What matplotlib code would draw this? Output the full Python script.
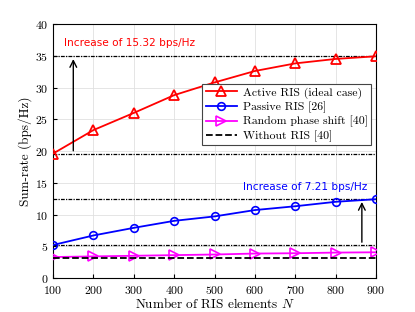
import numpy as np
import matplotlib
matplotlib.use('Agg')
from matplotlib import pyplot as plt

# data
n_elem = [100, 200, 300, 400, 500, 600, 700, 800, 900]
active = [19.6, 23.3, 26.0, 28.8, 30.8, 32.6, 33.8, 34.5, 34.92]
passive = [5.2, 6.7, 7.9, 9.0, 9.7, 10.7, 11.3, 12.0, 12.41]
random_ps = [3.3, 3.4, 3.5, 3.6, 3.7, 3.85, 3.9, 4.0, 4.05]
without = [3.1, 3.1, 3.1, 3.1, 3.1, 3.1, 3.1, 3.1, 3.1]
labels = ['Active RIS (ideal case)', 'Passive RIS [26]',
          'Random phase shift [40]', 'Without RIS [40]']

plt.rcParams['font.family'] = 'serif'
plt.rcParams['font.serif'] = ['cmr10', 'DejaVu Serif']
plt.rcParams['mathtext.fontset'] = 'cm'
plt.rcParams['axes.formatter.use_mathtext'] = True

fig = plt.figure(figsize=(4.15, 3.12), dpi=100)
ax = fig.add_axes([0.128, 0.109, 0.778, 0.814])

# reference lines
for lvl in [active[0], active[-1], passive[0], passive[-1]]:
    ax.axhline(lvl, color='k', ls=(0, (3, 1, 1, 1)), lw=0.9, zorder=1)

ax.plot(n_elem, active, 'r-^', lw=1.3, ms=6.5, mfc='none', mew=1.3, label=labels[0], zorder=3)
ax.plot(n_elem, passive, 'b-o', lw=1.3, ms=5.5, mfc='none', mew=1.2, label=labels[1], zorder=3)
ax.plot(n_elem, random_ps, '->', color='magenta', lw=1.3, ms=6.5, mfc='none', mew=1.2,
        label=labels[2], zorder=3)
ax.plot(n_elem, without, 'k--', lw=1.3, label=labels[3], zorder=3)

ax.annotate('', xy=(150, active[-1]), xytext=(150, active[0]),
            arrowprops=dict(arrowstyle='->', color='k', lw=1.0, mutation_scale=12))
ax.annotate('', xy=(865, passive[-1]), xytext=(865, passive[0]),
            arrowprops=dict(arrowstyle='->', color='k', lw=1.0, mutation_scale=12))
ax.text(127, 36.6, 'Increase of 15.32 bps/Hz', color='red', fontsize=7.6, family='DejaVu Sans')
ax.text(570, 13.8, 'Increase of 7.21 bps/Hz', color='blue', fontsize=7.6, family='DejaVu Sans')

ax.set_xlim(100, 900)
ax.set_ylim(0, 40)
ax.set_xticks(n_elem)
ax.set_yticks(np.arange(0, 41, 5))
ax.tick_params(labelsize=8.5, direction='in', length=3)
ax.tick_params(axis='x', pad=4)
ax.grid(True, color='#e0e0e0', lw=0.6)
ax.set_axisbelow(True)
ax.set_xlabel('Number of RIS elements $N$', fontsize=9.5, labelpad=1)
ax.set_ylabel('Sum-rate (bps/Hz)', fontsize=9.5, labelpad=2)

leg = ax.legend(loc='upper right', bbox_to_anchor=(0.985, 0.765), fontsize=8.5,
                fancybox=False, edgecolor='#444444', framealpha=1,
                borderpad=0.3, labelspacing=0.25, handlelength=2.6, handletextpad=0.5,
                borderaxespad=0)
leg.get_frame().set_linewidth(0.8)

fig.savefig('out.png', dpi=100)
